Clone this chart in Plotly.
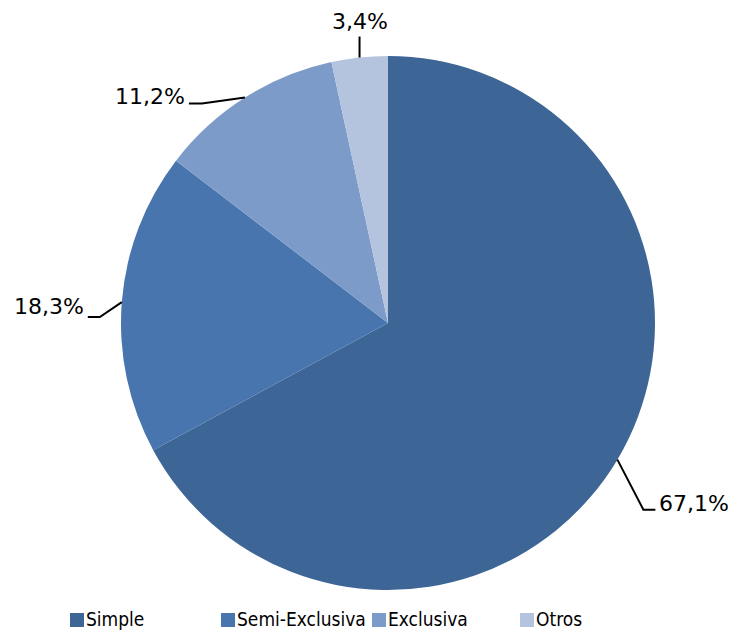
import math
import plotly.graph_objects as go

categories = ["Simple", "Semi-Exclusiva", "Exclusiva", "Otros"]
values = [67.1, 18.3, 11.2, 3.4]
label_texts = ["67,1%", "18,3%", "11,2%", "3,4%"]
colors = ["#3D6595", "#4875AE", "#7D9BC8", "#B4C3DE"]

W, H = 732, 632
CX, CY, R = 388, 323, 267
LABEL_FONT = "DejaVu Sans, sans-serif"
LEGEND_FONT = "DejaVu Sans Condensed, DejaVu Sans, sans-serif"

def px(x):
    return x / W

def py(y):
    return 1 - y / H

fig = go.Figure(go.Pie(
    labels=categories, values=values, sort=False, direction="clockwise",
    rotation=0, marker=dict(colors=colors, line=dict(width=0)),
    textinfo="none", hoverinfo="label+percent", showlegend=False,
    domain=dict(x=[px(CX - R), px(CX + R)], y=[py(CY + R), py(CY - R)]),
))

# leader line styles: elbow offset from slice edge, horizontal tail, text offset
leader = [
    dict(elbow=(26, 50), tail=12, anchor="left", dy=-6),
    dict(elbow=(-22, 15), tail=-12, anchor="right", dy=-11),
    dict(elbow=(-43, 6), tail=-13, anchor="right", dy=-7),
    dict(elbow=(0, -21), tail=0, anchor="center", dy=-15),
]

shapes = []
annotations = []
total = sum(values)
cum = 0.0
for v, txt, st in zip(values, label_texts, leader):
    mid = (cum + v / 2) / total * 2 * math.pi
    cum += v
    ex = CX + R * math.sin(mid)
    ey = CY - R * math.cos(mid)
    bx = ex + st["elbow"][0]
    by = ey + st["elbow"][1]
    tx = bx + st["tail"]
    shapes.append(dict(
        type="path", xref="paper", yref="paper",
        path=f"M {px(ex)},{py(ey)} L {px(bx)},{py(by)} L {px(tx)},{py(by)}",
        line=dict(color="black", width=2),
    ))
    gap = 2 if st["anchor"] == "left" else (-2 if st["anchor"] == "right" else 0)
    annotations.append(dict(
        x=px(tx + gap), y=py(by + st["dy"]), xref="paper", yref="paper",
        text=txt, showarrow=False, xanchor=st["anchor"], yanchor="middle",
        font=dict(family=LABEL_FONT, size=22, color="black"),
    ))

# legend
leg_x = [70, 221, 372, 520]
leg_y = 620
for x0, name, c in zip(leg_x, categories, colors):
    shapes.append(dict(
        type="rect", xref="paper", yref="paper",
        x0=px(x0), x1=px(x0 + 14), y0=py(leg_y + 7), y1=py(leg_y - 7),
        fillcolor=c, line=dict(width=0),
    ))
    annotations.append(dict(
        x=px(x0 + 14), y=py(leg_y - 1), xref="paper", yref="paper",
        text=name, showarrow=False, xanchor="left", yanchor="middle",
        font=dict(family=LEGEND_FONT, size=19, color="black"),
    ))

fig.update_layout(
    width=W, height=H, margin=dict(l=0, r=0, t=0, b=0),
    paper_bgcolor="white", plot_bgcolor="white",
    shapes=shapes, annotations=annotations, showlegend=False,
)

fig.write_html("out.html", config={"displayModeBar": False})

with open("out.html", encoding="utf-8") as f:
    html = f.read()
html = html.replace("<head>", "<head><style>html,body{margin:0;padding:0;overflow:hidden;}</style>", 1)
with open("out.html", "w", encoding="utf-8") as f:
    f.write(html)
